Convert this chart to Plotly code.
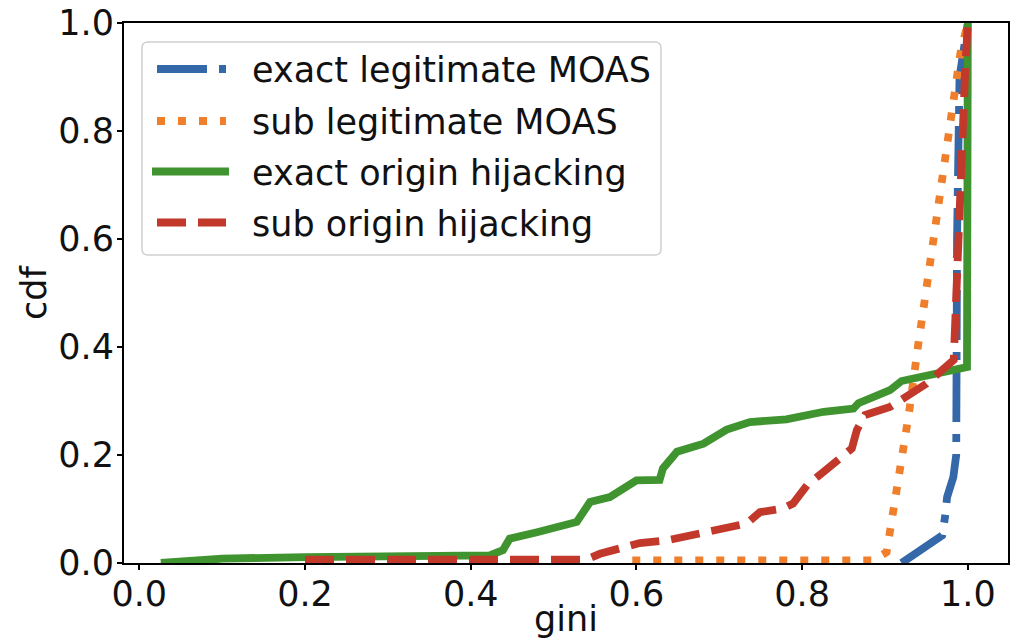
import plotly.graph_objects as go

# ---------------- data ----------------
series_names = ["exact legitimate MOAS", "sub legitimate MOAS",
                "exact origin hijacking", "sub origin hijacking"]

exact_legit_x = [0.920, 0.969, 0.9725, 0.975, 0.9825, 0.986, 0.987, 0.990, 1.0]
exact_legit_y = [0.0, 0.051, 0.085, 0.122, 0.159, 0.200, 0.600, 0.900, 1.0]

sub_legit_x = [0.595, 0.70, 0.80, 0.886, 0.902, 0.906, 0.910, 0.914, 0.918, 0.922,
               0.926, 0.930, 0.936, 0.940, 0.948, 0.960, 0.972, 0.983, 0.991, 1.0]
sub_legit_y = [0.005, 0.005, 0.005, 0.005, 0.020, 0.055, 0.094, 0.135, 0.172, 0.209,
               0.249, 0.289, 0.366, 0.403, 0.487, 0.610, 0.734, 0.857, 0.944, 1.0]

exact_hijack_x = [0.026, 0.10, 0.20, 0.30, 0.399, 0.423, 0.439, 0.447, 0.480, 0.504,
                  0.528, 0.544, 0.568, 0.600, 0.628, 0.632, 0.649, 0.681, 0.709,
                  0.737, 0.781, 0.826, 0.862, 0.868, 0.906, 0.920, 0.958, 0.999, 1.0]
exact_hijack_y = [0.0, 0.008, 0.011, 0.012, 0.014, 0.014, 0.024, 0.045, 0.057, 0.068,
                  0.076, 0.113, 0.122, 0.153, 0.154, 0.175, 0.206, 0.221, 0.247,
                  0.261, 0.266, 0.280, 0.286, 0.296, 0.320, 0.337, 0.348, 0.363, 1.0]

sub_hijack_x = [0.20, 0.30, 0.40, 0.539, 0.556, 0.604, 0.637, 0.681, 0.733, 0.749,
                0.777, 0.789, 0.806, 0.826, 0.842, 0.860, 0.866, 0.876, 0.906, 0.926,
                0.950, 0.983, 0.986, 0.987, 0.997, 1.0]
sub_hijack_y = [0.006, 0.006, 0.006, 0.006, 0.017, 0.037, 0.042, 0.057, 0.073, 0.094,
                0.101, 0.110, 0.144, 0.169, 0.190, 0.212, 0.246, 0.274, 0.289, 0.308,
                0.332, 0.376, 0.487, 0.610, 0.919, 1.0]

x_ticks = [0.0, 0.2, 0.4, 0.6, 0.8, 1.0]
y_ticks = [0.0, 0.2, 0.4, 0.6, 0.8, 1.0]
x_title = "gini"
y_title = "cdf"

# ---------------- styles ----------------
colors = ["#3468a8", "#f07f2c", "#3f942f", "#c2392b"]
dashes = ["50px,12px,8px,12px", "8px,13px", "solid", "29px,12px"]
LW = 7.8
FONT = "DejaVu Sans"
FS = 35

W, H = 1017, 639
ML, MR, MT, MB = 124, 9, 23, 76
PW, PH = W - ML - MR, H - MT - MB

fig = go.Figure()
data = [(exact_legit_x, exact_legit_y), (sub_legit_x, sub_legit_y),
        (exact_hijack_x, exact_hijack_y), (sub_hijack_x, sub_hijack_y)]
for (xs, ys), name, c, d in zip(data, series_names, colors, dashes):
    fig.add_trace(go.Scatter(x=xs, y=ys, mode="lines", name=name, showlegend=False,
                             line=dict(color=c, width=LW, dash=d)))

def px_x(p):
    return (p - ML) / PW

def px_y(p):
    return (H - MB - p) / PH

# ---------------- manual legend (matplotlib-like) ----------------
bx0, bx1, by0, by1 = px_x(142), px_x(661), px_y(42), px_y(255)
rx, ry = 6 / PW, 6 / PH
path = (f"M {bx0+rx},{by0} L {bx1-rx},{by0} Q {bx1},{by0} {bx1},{by0-ry} "
        f"L {bx1},{by1+ry} Q {bx1},{by1} {bx1-rx},{by1} L {bx0+rx},{by1} "
        f"Q {bx0},{by1} {bx0},{by1+ry} L {bx0},{by0-ry} Q {bx0},{by0} {bx0+rx},{by0} Z")
shapes = [dict(type="path", path=path, xref="paper", yref="paper",
               line=dict(color="#d0d0d0", width=1.5), fillcolor="white", layer="above")]
annotations = []
row_y = [69, 121, 171.5, 222.5]
line_x = [(157, 226), (157, 226), (152, 229), (157, 226)]
for name, c, d, ry_, (lx0, lx1) in zip(series_names, colors, dashes, row_y, line_x):
    shapes.append(dict(type="line", xref="paper", yref="paper",
                       x0=px_x(lx0), x1=px_x(lx1), y0=px_y(ry_), y1=px_y(ry_),
                       line=dict(color=c, width=LW, dash=d), layer="above"))
    annotations.append(dict(text=name, xref="paper", yref="paper", x=px_x(250),
                            y=px_y(ry_ + 1), xanchor="left", yanchor="middle",
                            showarrow=False, font=dict(family=FONT, size=FS, color="#111")))

axis_common = dict(showline=True, mirror=True, linecolor="black", linewidth=2,
                   ticks="outside", ticklen=5, tickwidth=2, tickcolor="black",
                   showgrid=False, zeroline=False, tickformat=".1f", automargin=False,
                   tickfont=dict(family=FONT, size=FS, color="#111"))

fig.update_layout(
    width=W, height=H,
    margin=dict(l=ML, r=MR, t=MT, b=MB, pad=0, autoexpand=False),
    paper_bgcolor="white", plot_bgcolor="white",
    font=dict(family=FONT, size=FS, color="#111"),
    xaxis=dict(range=[-0.01847, 1.0485], tickvals=x_ticks, ticklabelstandoff=-6,
               title=dict(text=x_title, standoff=0, font=dict(family=FONT, size=FS, color="#111")),
               **axis_common),
    yaxis=dict(range=[0, 1.0], tickvals=y_ticks, ticklabelstandoff=-4,
               title=dict(text=y_title, standoff=1, font=dict(family=FONT, size=FS, color="#111")),
               **axis_common),
    shapes=shapes, annotations=annotations, showlegend=False,
)

fig.write_html("out.html")
